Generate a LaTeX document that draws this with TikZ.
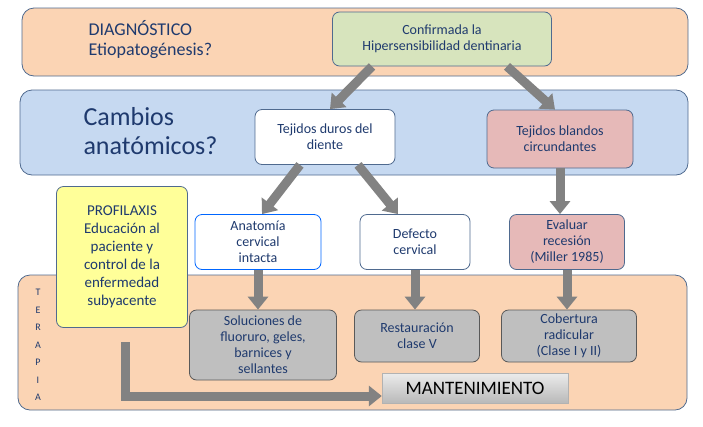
\documentclass[tikz,border=0pt]{standalone}
\usepackage{fontspec}
\setmainfont{Carlito}
\usetikzlibrary{arrows.meta,positioning}
\definecolor{txtblue}{HTML}{1F3A6E}
\definecolor{peach}{HTML}{FBD4B4}
\definecolor{lblue}{HTML}{C6D9F1}
\definecolor{lgreen}{HTML}{D7E4BD}
\definecolor{mypink}{HTML}{E6B9B8}
\definecolor{lyellow}{HTML}{FFFF99}
\definecolor{edge}{HTML}{4F6A8F}
\tikzset{
  band/.style={draw=edge,thick,rounded corners=12pt},
  box/.style={draw=edge,thick,rounded corners=7pt,align=center,text=txtblue,font=\fontsize{14}{16}\selectfont},
  bigarrow/.style={line width=9pt,gray!60!black!70,-{Triangle[width=20pt,length=13pt]}},
}
\begin{document}
\begin{tikzpicture}[x=1pt,y=-1pt]
  \useasboundingbox (0,0) rectangle (703,426);
  % bands
  \draw[band,fill=peach] (22,8) rectangle (688,76);
  \draw[band,fill=lblue] (20,90) rectangle (688,175);
  \draw[band,fill=peach] (18,275) rectangle (687,410);
  \node[text=txtblue,align=left,font=\fontsize{18}{20}\selectfont,anchor=west] (diag) at (85,40) {DIAGNÓSTICO\\Etiopatogénesis?};
  \node[text=txtblue,align=left,font=\fontsize{26}{29}\selectfont,anchor=west] (camb) at (80,131) {Cambios\\anatómicos?};
  \foreach \l [count=\i] in {T,E,R,A,P,I,A}
    \node[text=txtblue,font=\fontsize{10}{11}\selectfont] (ter\i) at (38,275+\i*17.5) {\l};
  % boxes
  \node[box,fill=lgreen,minimum width=219pt,minimum height=54pt] (conf) at (442,39) {Confirmada la\\Hipersensibilidad dentinaria};
  \node[box,fill=white,minimum width=140pt,minimum height=55pt] (duros) at (325,137) {Tejidos duros del\\diente};
  \node[box,fill=mypink,minimum width=146pt,minimum height=58pt] (blandos) at (560,139) {Tejidos blandos\\circundantes};
  \node[box,fill=lyellow,minimum width=131pt,minimum height=141pt,font=\fontsize{15}{18}\selectfont] (prof) at (122,257) {PROFILAXIS\\Educación al\\paciente y\\control de la\\enfermedad\\subyacente};
  \node[box,draw=blue!60!cyan,fill=white,minimum width=126pt,minimum height=55pt] (anat) at (258,242) {Anatomía\\cervical\\intacta};
  \node[box,fill=white,minimum width=110pt,minimum height=55pt] (defe) at (415,242) {Defecto\\cervical};
  \node[box,fill=mypink,minimum width=115pt,minimum height=55pt] (eval) at (567,242) {Evaluar\\recesión\\(Miller 1985)};
  \node[box,draw=gray!70!black,fill=gray!50,minimum width=147pt,minimum height=70pt] (sol) at (263,345) {Soluciones de\\fluoruro, geles,\\barnices y\\sellantes};
  \node[box,draw=gray!70!black,fill=gray!50,minimum width=125pt,minimum height=52pt] (rest) at (417,336) {Restauración\\clase V};
  \node[box,draw=gray!70!black,fill=gray!50,minimum width=135pt,minimum height=52pt] (cob) at (569,336) {Cobertura\\radicular\\(Clase I y II)};
  \node[draw=gray!60,top color=gray!15,bottom color=gray!55,minimum width=186pt,minimum height=30pt,font=\fontsize{19}{21}\selectfont] (mant) at (475,388) {MANTENIMIENTO};
  % arrows
  \draw[bigarrow] ([xshift=-70pt]conf.south) -- ([xshift=5pt]duros.north);
  \draw[bigarrow] ([xshift=65pt]conf.south) -- ([xshift=-5pt]blandos.north);
  \draw[bigarrow] ([xshift=-25pt]duros.south) -- ([xshift=4pt]anat.north);
  \draw[bigarrow] ([xshift=33pt]duros.south) -- ([xshift=-17pt]defe.north);
  \draw[bigarrow] (blandos.south) -- (blandos.south |- eval.north);
  \draw[bigarrow] (anat.south) -- (anat.south |- sol.north);
  \draw[bigarrow] (defe.south) -- (defe.south |- rest.north);
  \draw[bigarrow] (eval.south) -- (eval.south |- cob.north);
  \coordinate (pstart) at (125,342);
  \draw[bigarrow] (pstart) -- (125,396) -- (mant.west |- 0,396);
\end{tikzpicture}
\end{document}
